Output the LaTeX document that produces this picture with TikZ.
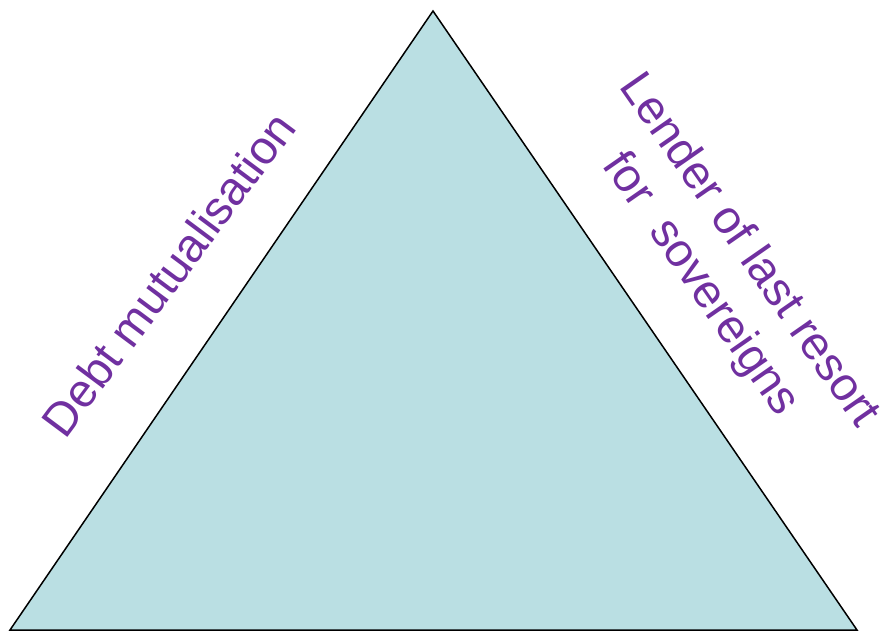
\documentclass[tikz,border=0pt]{standalone}
\usepackage{fontspec}
\setmainfont{Liberation Sans}
\usepackage{tikz}
\usetikzlibrary{positioning}
\definecolor{paleteal}{RGB}{186,223,227}
\definecolor{labelpurple}{RGB}{112,48,160}

\begin{document}
\begin{tikzpicture}[x=1pt,y=1pt,
  side/.style={text=labelpurple,font=\fontsize{47}{59}\selectfont,align=center,inner sep=0pt}
]
\useasboundingbox (0,0) rectangle (885,635);
\coordinate (BL) at (10,5);
\coordinate (TOP) at (433,624);
\coordinate (BR) at (857,5);
\draw[fill=paleteal,line width=1.5pt,line join=miter] (BL) -- (TOP) -- (BR) -- cycle;

% labels along the two sides
\node[side,rotate=53.3] (debt) at (168,361) {Debt mutualisation};
\node[side,rotate=-55.2] (lolr) at (724,367) {Lender of last resort\\for~~sovereigns};
\end{tikzpicture}
\end{document}
